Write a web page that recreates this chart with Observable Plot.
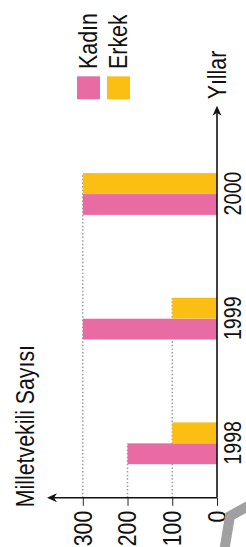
<!DOCTYPE html>
<html><head><meta charset="utf-8">
<script src="https://cdn.jsdelivr.net/npm/d3@7"></script>
<script src="https://cdn.jsdelivr.net/npm/@observablehq/plot@0.6"></script>
<style>
html,body{margin:0;padding:0;background:#fff;overflow:hidden;}
body{width:246px;height:547px;position:relative;}
#c{position:absolute;left:0;top:0;width:667px;height:246px;transform-origin:0 0;transform:translate(0,547px) rotate(-90deg) scale(0.82,1);}
#c svg{display:block;max-width:none;}
#c svg g[aria-label^="x-axis"] text{font-size:24px;}
#lg{position:absolute;left:546px;top:74px;margin:0;}
.lg-swatch > svg{margin-right:9px !important;}
.lg-swatch{line-height:29px;}
#deco{position:absolute;left:0;top:0;pointer-events:none;}
</style></head><body><div id="c"></div>
<svg id="deco" width="246" height="547"><path d="M224,552L230,516L250,505" fill="none" stroke="#a0a0a0" stroke-width="10" stroke-linejoin="miter"/></svg>
<script>
const years = [1998, 1999, 2000];
const series = ["Kadın", "Erkek"];
const kadin = [200, 300, 300];
const erkek = [100, 100, 300];
const colors = ["#E96BA3", "#FBBF14"];
const yTicks = [0, 100, 200, 300];
const yLabel = "Milletvekili Sayısı";
const xLabel = "Yıllar";

const data = years.flatMap((year, i) => [
  {year, series: series[0], value: kadin[i]},
  {year, series: series[1], value: erkek[i]}
]);
// drop lines: each tick value reaches the last bar that has that value
const drops = yTicks.filter(v => v > 0)
  .map(v => { const m = data.filter(d => d.value === v); return m[m.length - 1]; })
  .filter(Boolean);

const K = 0.82; // horizontal condensing of the whole drawing (narrow type)
const font = '"Liberation Sans",Arial,Helvetica,sans-serif';

function dropMark(index, scales, values, dim) {
  const {x, y} = scales;
  const g = d3.create("svg:g").attr("stroke", "#9a9a9a").attr("stroke-width", 1.5).attr("stroke-dasharray", "1.8 2.6");
  const bw = x.bandwidth();
  for (const d of drops) {
    const k = series.indexOf(d.series);
    const xe = x(d.year) + bw * (k + 1) / series.length;
    g.append("line").attr("x1", dim.marginLeft).attr("x2", xe).attr("y1", y(d.value)).attr("y2", y(d.value));
  }
  return g.node();
}

function axesMark(index, scales, values, dim) {
  const {width, height, marginLeft, marginRight, marginTop, marginBottom} = dim;
  const x0 = marginLeft, y0 = height - marginBottom, x1 = width - marginRight, y1 = marginTop;
  const g = d3.create("svg:g");
  const h = g.append("g").attr("fill", "none").attr("stroke", "#111");
  h.append("path").attr("stroke-width", 1.6).attr("d", `M${x0},${y0}H${x1 - 6}`);
  h.append("path").attr("stroke-width", 1.9).attr("d", `M${x0},${y0}V${y1 + 5}`);
  const f = g.append("g").attr("fill", "#111");
  f.append("path").attr("d", `M${x1},${y0}L${x1 - 12},${y0 - 4.5}L${x1 - 8.5},${y0}L${x1 - 12},${y0 + 4.5}Z`);
  f.append("path").attr("d", `M${x0},${y1}L${x0 - 5.5},${y1 + 10}L${x0},${y1 + 7}L${x0 + 5.5},${y1 + 10}Z`);
  return g.node();
}

const chart = Plot.plot({
  width: 667, height: 246,
  marginLeft: 60, marginRight: 129, marginTop: 47, marginBottom: 29,
  style: {fontFamily: font, fontSize: "26px", color: "#111", background: "transparent"},
  x: {domain: years, paddingInner: 0.664, paddingOuter: 0.4, align: 0.33, label: null, tickSize: 0, tickPadding: 6, tickFormat: d3.format("d")},
  y: {domain: [0, 380], ticks: yTicks, tickSize: 9.8, tickPadding: 6.5, label: null, tickFormat: d3.format("d")},
  color: {domain: series, range: colors},
  marks: [
    dropMark,
    Plot.barY(data.filter(d => d.series === series[0]), {x: "year", y: "value", fill: "series", insetRight: 25.6}),
    Plot.barY(data.filter(d => d.series === series[1]), {x: "year", y: "value", fill: "series", insetLeft: 25.6}),
    axesMark,
    Plot.text([xLabel], {text: d => d, frameAnchor: "bottom-right", dx: 7.5, textAnchor: "start", lineAnchor: "middle", fill: "#111"}),
    Plot.text([yLabel], {text: d => d, frameAnchor: "top-left", dx: -12, dy: -14, textAnchor: "start", lineAnchor: "bottom", fill: "#111"})
  ]
});

const lg = Plot.legend({
  color: {domain: series, range: colors},
  columns: 1, swatchWidth: 28, swatchHeight: 23, className: "lg",
  style: {fontFamily: font, fontSize: "26px", color: "#111", margin: "0"}
});
lg.id = "lg";
const c = document.getElementById("c");
c.appendChild(chart);
c.appendChild(lg);
</script>
</body></html>
